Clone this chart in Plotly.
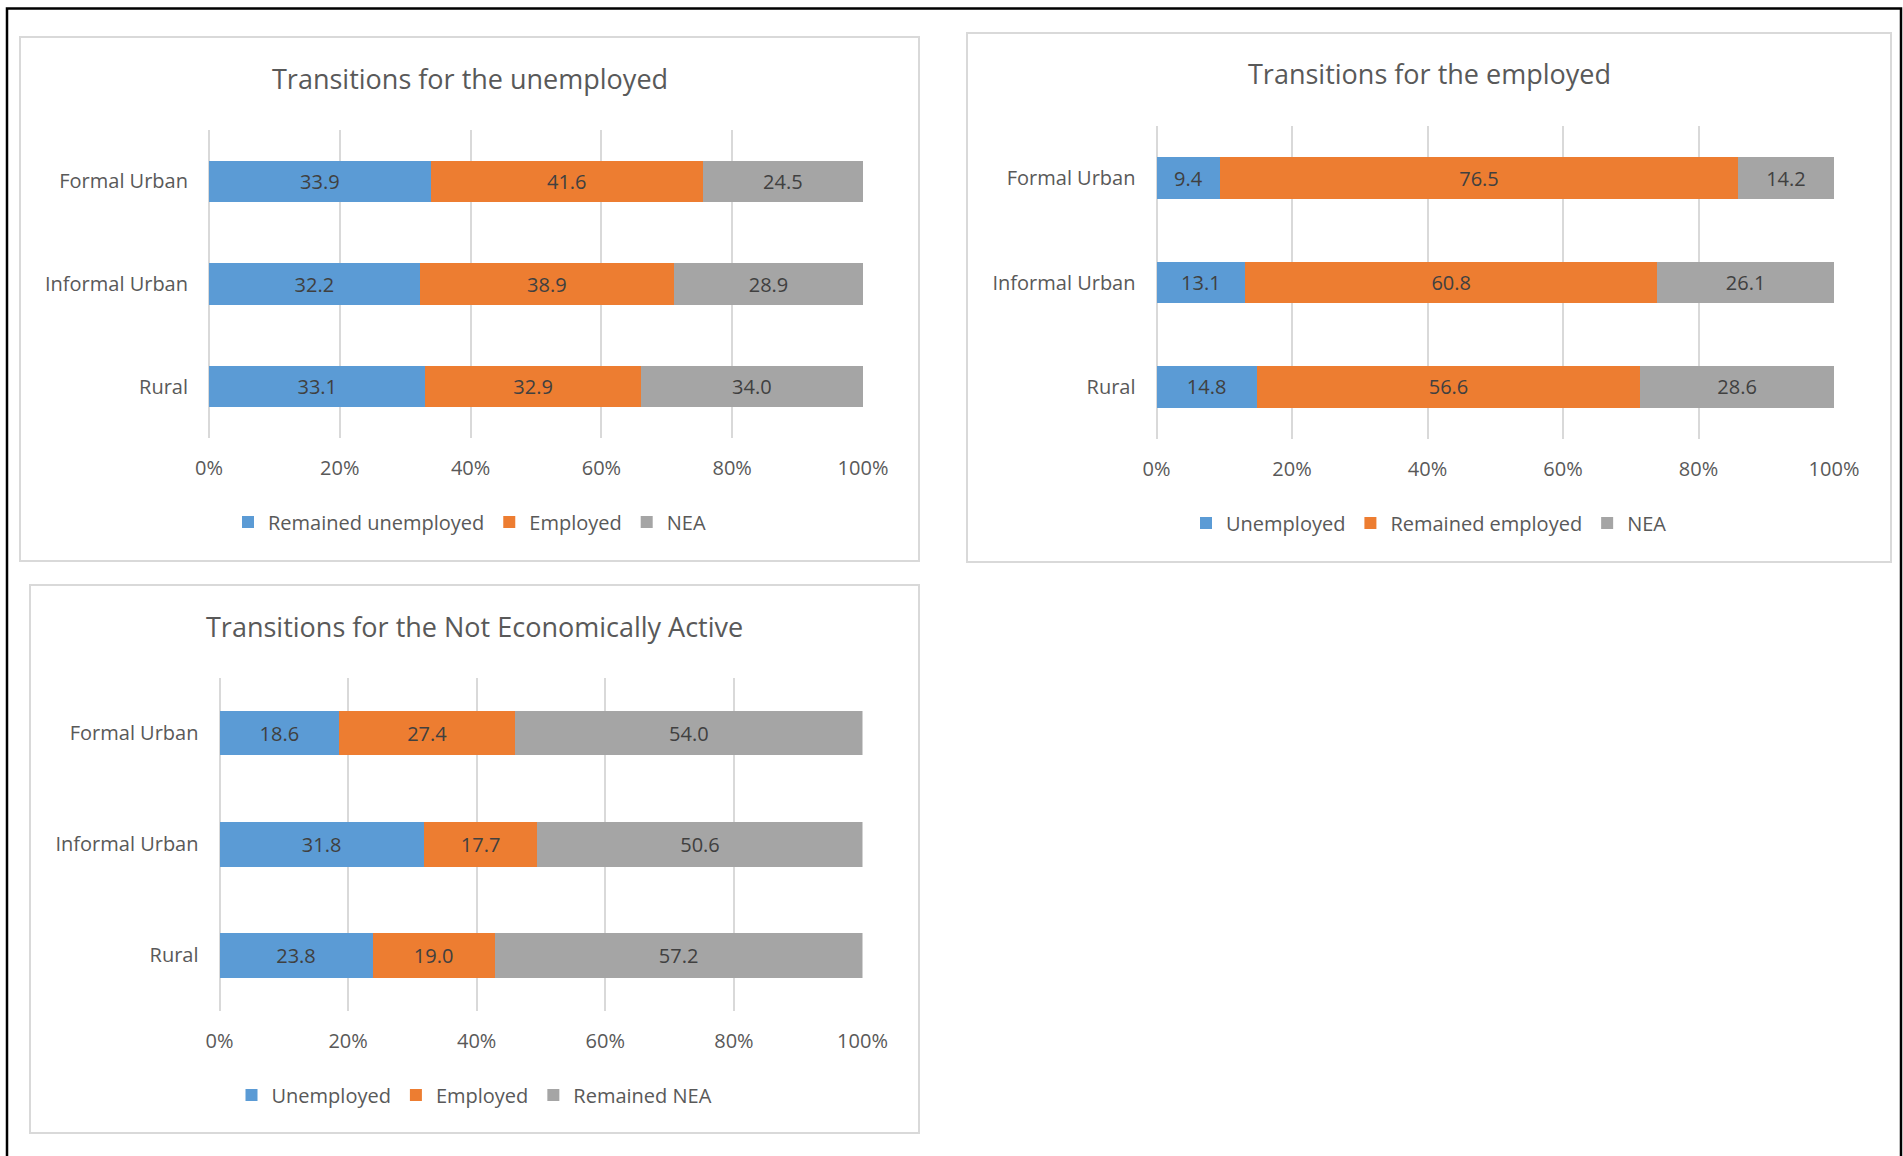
import plotly.graph_objects as go

W, H = 1903, 1156

# ---------------- data ----------------
categories = ["Formal Urban", "Informal Urban", "Rural"]
tick_vals = [0, 20, 40, 60, 80, 100]
tick_text = ["0%", "20%", "40%", "60%", "80%", "100%"]

titles = [
    "Transitions for the unemployed",
    "Transitions for the employed",
    "Transitions for the Not Economically Active",
]

unemp_series = ["Remained unemployed", "Employed", "NEA"]
unemp_remained = [33.9, 32.2, 33.1]
unemp_employed = [41.6, 38.9, 32.9]
unemp_nea = [24.5, 28.9, 34.0]

emp_series = ["Unemployed", "Remained employed", "NEA"]
emp_unemployed = [9.4, 13.1, 14.8]
emp_remained = [76.5, 60.8, 56.6]
emp_nea = [14.2, 26.1, 28.6]

nea_series = ["Unemployed", "Employed", "Remained NEA"]
nea_unemployed = [18.6, 31.8, 23.8]
nea_employed = [27.4, 17.7, 19.0]
nea_remained = [54.0, 50.6, 57.2]

colors = ["#5B9BD5", "#ED7D31", "#A5A5A5"]

# ---------------- layout geometry (pixels) ----------------
FONT = "Open Sans"
TXT = "#595959"
LBL = "#404040"

panels = [
    dict(box=(20, 37, 919, 561), plot=(209, 130, 863, 438), title_y=78, legend_y=522,
         names=unemp_series, values=[unemp_remained, unemp_employed, unemp_nea]),
    dict(box=(967, 33, 1891, 562), plot=(1156.5, 126, 1834, 439), title_y=74, legend_y=523,
         names=emp_series, values=[emp_unemployed, emp_remained, emp_nea]),
    dict(box=(30, 585, 919, 1133), plot=(219.5, 677.6, 862.5, 1011), title_y=626, legend_y=1095,
         names=nea_series, values=[nea_unemployed, nea_employed, nea_remained]),
]


def px(x):
    return x / W


def py(y):
    return 1 - y / H


fig = go.Figure()
shapes = []
annotations = []
layout_extra = {}

for i, p in enumerate(panels):
    k = "" if i == 0 else str(i + 1)
    leg = "legend" + k
    for name, vals, col in zip(p["names"], p["values"], colors):
        fig.add_trace(go.Bar(
            y=categories, x=vals, name=name, orientation="h",
            marker=dict(color=col, line=dict(width=0)),
            text=vals, texttemplate="%{text:.1f}",
            textposition="inside", insidetextanchor="middle",
            textfont=dict(family=FONT, size=20, color=LBL),
            textangle=0, cliponaxis=False,
            xaxis="x" + k, yaxis="y" + k, legend=leg,
            hoverinfo="skip",
        ))

    x0, y0, x1, y1 = p["plot"]
    layout_extra["xaxis" + k] = dict(
        domain=[px(x0), px(x1)], anchor="y" + k, range=[0, 100.0001],
        tickmode="array", tickvals=tick_vals, ticktext=tick_text,
        showgrid=True, gridcolor="#D9D9D9", gridwidth=2,
        zeroline=True, zerolinecolor="#D9D9D9", zerolinewidth=2,
        showline=False, ticks="", ticklabelstandoff=16, automargin=False,
        tickfont=dict(family=FONT, size=20, color=TXT), fixedrange=True,
    )
    layout_extra["yaxis" + k] = dict(
        domain=[py(y1), py(y0)], anchor="x" + k, autorange="reversed",
        type="category", showgrid=False, zeroline=False, showline=False,
        ticks="", ticklabelstandoff=20, automargin=False,
        tickfont=dict(family=FONT, size=20, color=TXT), fixedrange=True,
    )

    bx0, by0, bx1, by1 = p["box"]
    shapes.append(dict(type="rect", xref="paper", yref="paper",
                       x0=px(bx0), x1=px(bx1), y0=py(by1), y1=py(by0),
                       line=dict(color="#D9D9D9", width=2), fillcolor="rgba(0,0,0,0)", layer="below"))
    cx = (bx0 + bx1) / 2
    annotations.append(dict(xref="paper", yref="paper", x=px(cx), y=py(p["title_y"]),
                            text=titles[i], showarrow=False, xanchor="center", yanchor="middle",
                            font=dict(family=FONT, size=27, color=TXT)))
    layout_extra[leg] = dict(
        orientation="h", x=px(cx), xanchor="center", y=py(p["legend_y"]), yanchor="middle",
        font=dict(family=FONT, size=20, color=TXT), bgcolor="rgba(0,0,0,0)",
        traceorder="normal", itemclick=False, itemdoubleclick=False,
    )

# outer black frame
shapes.append(dict(type="rect", xref="paper", yref="paper",
                   x0=px(7), x1=px(1901), y0=py(1200), y1=py(8.5),
                   line=dict(color="#000000", width=2.5), fillcolor="rgba(0,0,0,0)"))

fig.update_layout(
    width=W, height=H, margin=dict(l=0, r=0, t=0, b=0, pad=0, autoexpand=False),
    paper_bgcolor="white", plot_bgcolor="white",
    barmode="stack", barnorm="percent", bargap=0.6,
    showlegend=True, shapes=shapes, annotations=annotations,
    font=dict(family=FONT, color=TXT),
    **layout_extra,
)

fig.write_html("out.html", config={"displayModeBar": False},
               post_script="document.body.style.margin='0';document.body.style.overflow='hidden';")
